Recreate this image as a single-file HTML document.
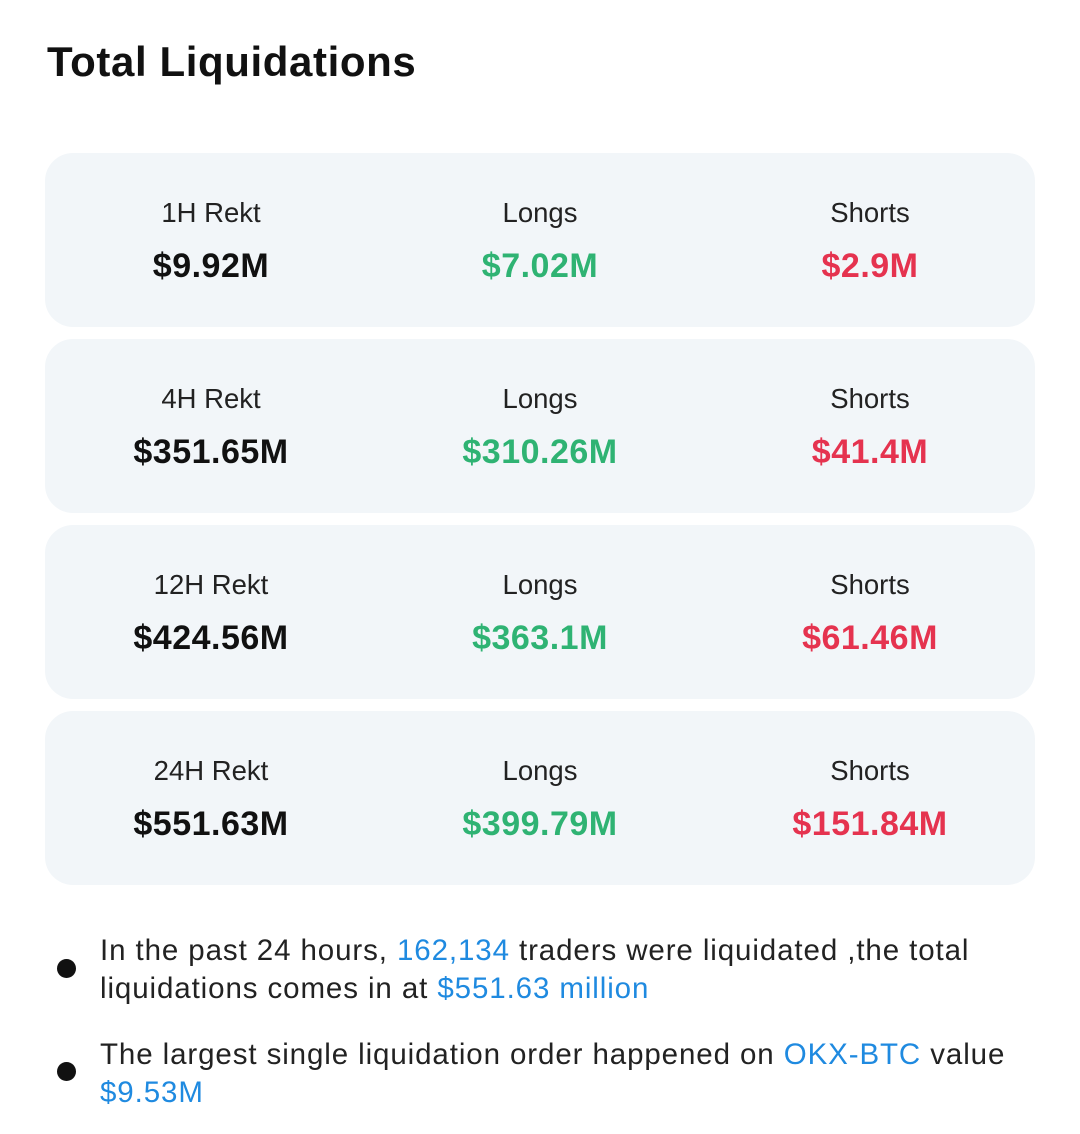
<!DOCTYPE html>
<html><head><style>
body{margin:0;width:1080px;height:1134px;background:#fff;font-family:"Liberation Sans",sans-serif;color:#111;position:relative;overflow:hidden}
h1{position:absolute;left:47px;top:38px;margin:0;font-size:42px;font-weight:bold;letter-spacing:0.6px}
.card{position:absolute;left:45px;width:990px;height:174px;background:#f2f6f9;border-radius:28px}
.c{position:absolute;width:300px;text-align:center}
.l{top:44px;font-size:27.5px;color:#222}
.v{top:94px;font-size:34px;font-weight:bold;letter-spacing:0.5px}
.g{color:#2fb373}.r{color:#e5334f}
.b{position:absolute;left:100px;font-size:29.5px;line-height:38px;color:#222;letter-spacing:0.9px;white-space:nowrap}
.b a{color:#1f8ae0;text-decoration:none}
.dot{position:absolute;left:57px;width:19px;height:19px;border-radius:50%;background:#111}
</style></head><body>
<h1>Total Liquidations</h1>
<div class="card" style="top:153px">
<div class="c l" style="left:16px">1H Rekt</div><div class="c v" style="left:16px">$9.92M</div>
<div class="c l" style="left:345px">Longs</div><div class="c v g" style="left:345px">$7.02M</div>
<div class="c l" style="left:675px">Shorts</div><div class="c v r" style="left:675px">$2.9M</div></div>
<div class="card" style="top:339px">
<div class="c l" style="left:16px">4H Rekt</div><div class="c v" style="left:16px">$351.65M</div>
<div class="c l" style="left:345px">Longs</div><div class="c v g" style="left:345px">$310.26M</div>
<div class="c l" style="left:675px">Shorts</div><div class="c v r" style="left:675px">$41.4M</div></div>
<div class="card" style="top:525px">
<div class="c l" style="left:16px">12H Rekt</div><div class="c v" style="left:16px">$424.56M</div>
<div class="c l" style="left:345px">Longs</div><div class="c v g" style="left:345px">$363.1M</div>
<div class="c l" style="left:675px">Shorts</div><div class="c v r" style="left:675px">$61.46M</div></div>
<div class="card" style="top:711px">
<div class="c l" style="left:16px">24H Rekt</div><div class="c v" style="left:16px">$551.63M</div>
<div class="c l" style="left:345px">Longs</div><div class="c v g" style="left:345px">$399.79M</div>
<div class="c l" style="left:675px">Shorts</div><div class="c v r" style="left:675px">$151.84M</div></div>
<div class="dot" style="top:959px"></div>
<div class="b" style="top:932px">In the past 24 hours, <a>162,134</a> traders were liquidated ,the total<br>liquidations comes in at <a>$551.63 million</a></div>
<div class="dot" style="top:1062px"></div>
<div class="b" style="top:1036px">The largest single liquidation order happened on <a>OKX-BTC</a> value<br><a>$9.53M</a></div>
</body></html>
